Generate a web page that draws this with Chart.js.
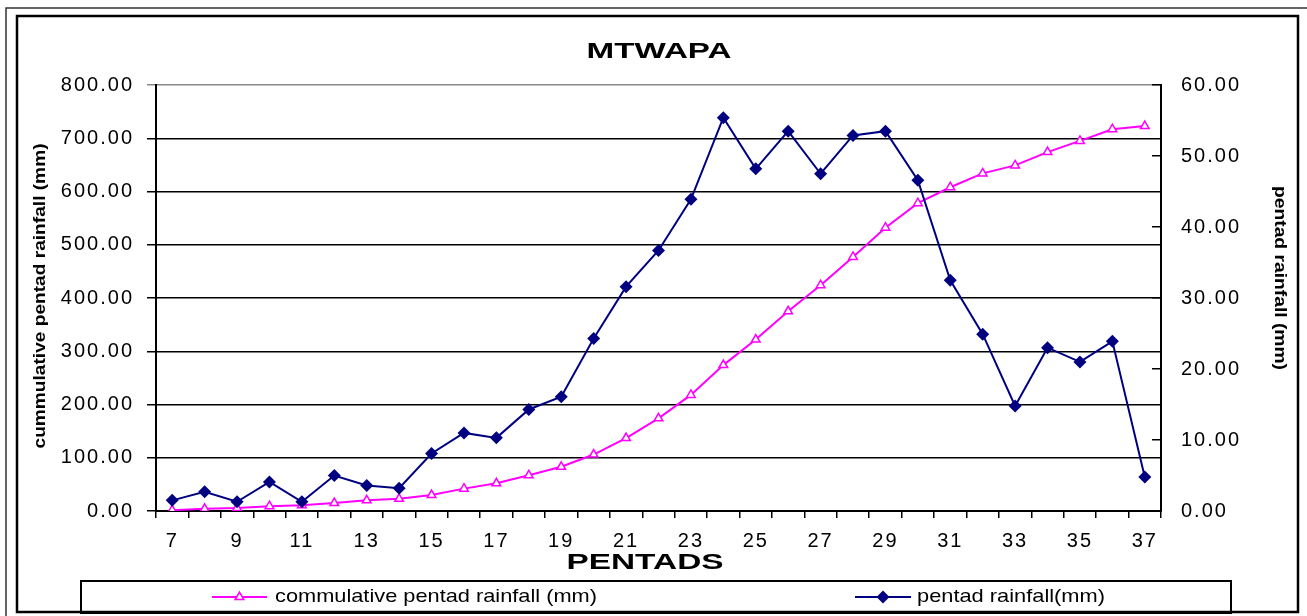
<!DOCTYPE html>
<html>
<head>
<meta charset="utf-8">
<script src="https://cdn.jsdelivr.net/npm/chart.js@4.4.1/dist/chart.umd.min.js"></script>
<style>
  html, body { margin: 0; padding: 0; background: #fff; }
  #wrap { width: 1307px; height: 616px; }
</style>
</head>
<body>
<div id="wrap"><canvas id="rainChart" width="1307" height="616"></canvas></div>
<script>
const PENTADS = [7, 8, 9, 10, 11, 12, 13, 14, 15, 16, 17, 18, 19, 20, 21, 22,
                 23, 24, 25, 26, 27, 28, 29, 30, 31, 32, 33, 34, 35, 36, 37];

// left axis (mm)
const CUMULATIVE = [1.5, 4, 5.5, 9, 11, 15, 20, 23, 30, 42, 52, 67, 83, 106, 137, 174,
                    218, 274, 322, 375, 424, 477, 532, 578, 608, 634, 649, 674, 695, 717, 723];

// right axis (mm)
const PENTAD_RAIN = [1.5, 2.7, 1.3, 4.1, 1.3, 5.0, 3.6, 3.2, 8.1, 11.0, 10.3, 14.3, 16.1, 24.3, 31.6, 36.7,
                     43.9, 55.4, 48.2, 53.5, 47.5, 52.9, 53.5, 46.6, 32.5, 24.9, 14.8, 23.0, 21.0, 23.9, 4.8];

const LEFT_MAX = 800, LEFT_STEP = 100;
const RIGHT_MAX = 60, RIGHT_STEP = 10;

const FONT = "'Liberation Sans', Arial, sans-serif";

function stretchText(ctx, txt, x, y, targetW, font, align, rot) {
  ctx.save();
  ctx.font = font;
  const w = ctx.measureText(txt).width;
  ctx.translate(x, y);
  if (rot) ctx.rotate(rot);
  ctx.scale(targetW / w, 1);
  ctx.textAlign = align;
  ctx.textBaseline = 'middle';
  ctx.fillStyle = '#000';
  ctx.fillText(txt, 0, 0);
  ctx.restore();
}

const framePlugin = {
  id: 'frame',
  beforeDraw(chart) {
    const ctx = chart.ctx;
    ctx.save();
    ctx.fillStyle = '#fff';
    ctx.fillRect(0, 0, chart.width, chart.height);
    ctx.strokeStyle = '#333';
    ctx.lineWidth = 1.5;
    ctx.strokeRect(6, 8, 1320, 640);
    ctx.strokeStyle = '#000';
    ctx.lineWidth = 2.5;
    ctx.strokeRect(17, 16, 1281, 596);
    ctx.restore();
    ctx.letterSpacing = '2px';
  },
  afterDraw(chart) {
    const ctx = chart.ctx;
    ctx.letterSpacing = '0px';

    stretchText(ctx, 'MTWAPA', 659, 52, 145, 'bold 22px ' + FONT, 'center');
    stretchText(ctx, 'PENTADS', 645, 563, 157, 'bold 22px ' + FONT, 'center');
    stretchText(ctx, 'cummulative pentad rainfall (mm)', 40, 296, 305, 'bold 17px ' + FONT, 'center', -Math.PI / 2);
    stretchText(ctx, 'pentad rainfall (mm)', 1280, 278, 184, 'bold 17px ' + FONT, 'center', Math.PI / 2);

    // legend box
    ctx.save();
    ctx.strokeStyle = '#000';
    ctx.lineWidth = 2;
    ctx.strokeRect(81, 581, 1150, 32);
    const ly = 597;
    const items = [
      { x0: 212, x1: 267, tx: 275, tw: 322, ds: chart.data.datasets[0] },
      { x0: 855, x1: 911, tx: 917, tw: 188, ds: chart.data.datasets[1] }
    ];
    items.forEach(it => {
      ctx.strokeStyle = it.ds.borderColor;
      ctx.lineWidth = 2;
      ctx.beginPath();
      ctx.moveTo(it.x0, ly); ctx.lineTo(it.x1, ly);
      ctx.stroke();
      const cx = (it.x0 + it.x1) / 2;
      ctx.beginPath();
      if (it.ds.pointStyle === 'triangle') {
        const r = it.ds.pointRadius;
        ctx.moveTo(cx, ly - r);
        ctx.lineTo(cx + r * 0.866, ly + r * 0.5);
        ctx.lineTo(cx - r * 0.866, ly + r * 0.5);
        ctx.closePath();
        ctx.fillStyle = '#fff';
        ctx.fill();
        ctx.lineWidth = 1.5;
        ctx.stroke();
      } else {
        const r = it.ds.pointRadius;
        ctx.moveTo(cx, ly - r); ctx.lineTo(cx + r, ly);
        ctx.lineTo(cx, ly + r); ctx.lineTo(cx - r, ly);
        ctx.closePath();
        ctx.fillStyle = it.ds.pointBackgroundColor;
        ctx.fill();
      }
      stretchText(ctx, it.ds.label, it.tx, ly, it.tw, '19px ' + FONT, 'left');
    });
    ctx.restore();
  }
};

new Chart(document.getElementById('rainChart'), {
  type: 'line',
  data: {
    labels: PENTADS,
    datasets: [
      {
        label: 'commulative pentad rainfall (mm)',
        data: CUMULATIVE,
        yAxisID: 'y',
        borderColor: '#FF00FF',
        borderWidth: 2,
        pointStyle: 'triangle',
        pointRadius: 5,
        pointBorderWidth: 1.5,
        pointBackgroundColor: '#fff',
        pointBorderColor: '#FF00FF',
        tension: 0,
        order: 2
      },
      {
        label: 'pentad rainfall(mm)',
        data: PENTAD_RAIN,
        yAxisID: 'y2',
        borderColor: '#000080',
        borderWidth: 2,
        pointStyle: 'rectRot',
        pointRadius: 6.5,
        pointBorderWidth: 0,
        pointBackgroundColor: '#000080',
        pointBorderColor: '#000080',
        tension: 0,
        order: 1
      }
    ]
  },
  options: {
    responsive: false,
    animation: false,
    devicePixelRatio: 1,
    layout: { padding: { top: 85, left: 0, right: 0, bottom: 0 } },
    plugins: {
      legend: { display: false },
      tooltip: { enabled: false },
      title: { display: false }
    },
    elements: { line: { clip: false } },
    scales: {
      x: {
        type: 'category',
        offset: true,
        grid: { offset: true, drawOnChartArea: false, drawTicks: true, tickLength: 7, color: '#000', lineWidth: 1.5 },
        border: { display: true, color: '#000', width: 2 },
        ticks: {
          autoSkip: false, maxRotation: 0, minRotation: 0, padding: 11,
          color: '#000', font: { family: FONT, size: 20 },
          callback: (v, i) => (i % 2 === 0 ? PENTADS[i] : '')
        },
        afterFit: s => { s.height = 105; }
      },
      y: {
        position: 'left',
        min: 0, max: LEFT_MAX,
        grid: {
          color: ctx => (ctx.tick && ctx.tick.value === LEFT_MAX ? '#888' : '#000'),
          lineWidth: 1.5, tickLength: 9, drawTicks: true
        },
        border: { display: true, color: '#000', width: 2 },
        ticks: {
          stepSize: LEFT_STEP, padding: 13, color: '#000',
          font: { family: FONT, size: 20 },
          callback: v => Number(v).toFixed(2)
        },
        afterFit: s => { s.width = 156; }
      },
      y2: {
        position: 'right',
        min: 0, max: RIGHT_MAX,
        grid: { drawOnChartArea: false, tickLength: -9, color: '#000', lineWidth: 1.5 },
        border: { display: true, color: '#000', width: 2 },
        ticks: {
          stepSize: RIGHT_STEP, padding: 29, color: '#000',
          font: { family: FONT, size: 20 },
          callback: v => Number(v).toFixed(2)
        },
        afterFit: s => { s.width = 146; }
      }
    }
  },
  plugins: [framePlugin]
});
</script>
</body>
</html>
